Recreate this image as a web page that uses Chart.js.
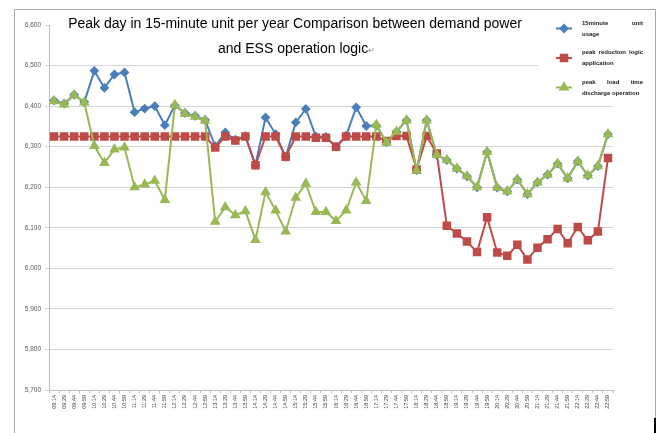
<!DOCTYPE html>
<html>
<head>
<meta charset="utf-8">
<script src="https://cdn.jsdelivr.net/npm/chart.js@4/dist/chart.umd.min.js"></script>
<style>
  html, body { margin: 0; padding: 0; background: #fff; }
  canvas { display: block; }
</style>
</head>
<body>
<canvas id="chart" width="659" height="433"></canvas>
<script>
// time slots (x axis)
const timeLabels = [
  '09:14','09:29','09:44','09:59','10:14','10:29','10:44','10:59',
  '11:14','11:29','11:44','11:59','12:14','12:29','12:44','12:59',
  '13:14','13:29','13:44','13:59','14:14','14:29','14:44','14:59',
  '15:14','15:29','15:44','15:59','16:14','16:29','16:44','16:59',
  '17:14','17:29','17:44','17:59','18:14','18:29','18:44','18:59',
  '19:14','19:29','19:44','19:59','20:14','20:29','20:44','20:59',
  '21:14','21:29','21:44','21:59','22:14','22:29','22:44','22:59'
];

// 15minute unit usage
const usage = [
  6414, 6406, 6428, 6410, 6487, 6445, 6478, 6483,
  6385, 6394, 6400, 6353, 6402, 6383, 6376, 6366,
  6301, 6335, 6317, 6326, 6255, 6372, 6331, 6275,
  6360, 6393, 6325, 6324, 6300, 6327, 6397, 6351,
  6352, 6311, 6337, 6365, 6242, 6365, 6280, 6267,
  6246, 6227, 6200, 6287, 6199, 6190, 6219, 6183,
  6212, 6231, 6258, 6222, 6264, 6229, 6252, 6331
];

// peak reduction logic application
const peakReduction = [
  6325, 6325, 6325, 6325, 6325, 6325, 6325, 6325,
  6325, 6325, 6325, 6325, 6325, 6325, 6325, 6325,
  6298, 6325, 6315, 6325, 6254, 6325, 6325, 6275,
  6325, 6325, 6322, 6322, 6300, 6325, 6325, 6325,
  6325, 6314, 6326, 6326, 6244, 6326, 6283, 6105,
  6086, 6066, 6040, 6126, 6039, 6031, 6058, 6022,
  6051, 6072, 6097, 6062, 6102, 6069, 6091, 6272
];

// peak load time discharge operation
const discharge = [
  6412, 6404, 6427, 6409, 6302, 6260, 6293, 6298,
  6200, 6207, 6216, 6169, 6403, 6381, 6374, 6364,
  6115, 6151, 6131, 6141, 6070, 6188, 6143, 6091,
  6174, 6209, 6139, 6139, 6117, 6143, 6212, 6166,
  6354, 6310, 6337, 6365, 6241, 6365, 6280, 6267,
  6246, 6227, 6200, 6287, 6199, 6190, 6219, 6183,
  6212, 6231, 6258, 6222, 6264, 6229, 6252, 6331
];

// legend text, one entry per line as in the original
const seriesNames = [
  ['15minute unit', 'usage'],
  ['peak reduction logic', 'application'],
  ['peak load time', 'discharge operation']
];

const titleLines = [
  'Peak day in 15-minute unit per year Comparison between demand power',
  'and ESS operation logic'
];

const yMin = 5700, yMax = 6600, yStep = 100;

const BLUE = '#4a7ebb', RED = '#be4b48', GREEN = '#98b954';

// white boxes for title + legend, the outer frame, and their texts
const overlay = {
  id: 'overlay',
  afterDraw(chart) {
    const ctx = chart.ctx;
    ctx.save();

    // title box and legend box hide the top gridlines
    ctx.fillStyle = '#fff';
    ctx.fillRect(50, 10, 488, 53);
    ctx.fillRect(538, 10, 116, 90);

    // outer frame
    ctx.strokeStyle = '#a8a8a8';
    ctx.lineWidth = 1;
    ctx.beginPath();
    ctx.moveTo(14.5, 440);
    ctx.lineTo(14.5, 9.5);
    ctx.lineTo(655.5, 9.5);
    ctx.lineTo(655.5, 440);
    ctx.stroke();
    ctx.fillStyle = '#000';
    ctx.fillRect(654, 418, 2, 15);

    // title
    ctx.fillStyle = '#000';
    ctx.font = '14px "Liberation Sans", Arial, sans-serif';
    ctx.textBaseline = 'middle';
    ctx.textAlign = 'center';
    ctx.fillText(titleLines[0], 295, 24);
    ctx.textAlign = 'left';
    ctx.fillText(titleLines[1], 218, 49);
    const w2 = ctx.measureText(titleLines[1]).width;
    ctx.fillStyle = '#888';
    ctx.font = '8px "DejaVu Sans", sans-serif';
    ctx.fillText('\u21b5', 218 + w2, 51);

    // legend
    const sampleY = [28.5, 58, 87.5];
    const textLeft = 582, textRight = 643;
    chart.data.datasets.forEach((ds, i) => {
      const y = sampleY[i];
      ctx.strokeStyle = ds.borderColor;
      ctx.lineWidth = 2;
      ctx.beginPath();
      ctx.moveTo(556, y);
      ctx.lineTo(572, y);
      ctx.stroke();
      Chart.helpers.drawPoint(ctx, {
        pointStyle: ds.pointStyle,
        radius: ds.pointRadius,
        borderWidth: 1
      }, 564, y);
      ctx.fillStyle = ds.pointBackgroundColor;
      ctx.strokeStyle = ds.pointBorderColor;
      ctx.fill();

      ctx.fillStyle = '#222';
      ctx.font = 'bold 6px "Liberation Sans", Arial, sans-serif';
      ctx.textAlign = 'left';
      const lines = seriesNames[i];
      lines.forEach((line, j) => {
        const ly = y + (j - (lines.length - 1) / 2) * 11;
        const words = line.split(' ');
        if (j < lines.length - 1 && words.length > 1) {
          // justified line
          const total = words.reduce((s, w) => s + ctx.measureText(w).width, 0);
          const gap = (textRight - textLeft - total) / (words.length - 1);
          let x = textLeft;
          words.forEach(w => {
            ctx.fillText(w, x, ly);
            x += ctx.measureText(w).width + gap;
          });
        } else {
          ctx.fillText(line, textLeft, ly);
        }
      });
    });
    ctx.restore();
  }
};

const ctx = document.getElementById('chart').getContext('2d');
new Chart(ctx, {
  type: 'line',
  data: {
    labels: timeLabels,
    datasets: [
      {
        label: seriesNames[0].join(' '),
        data: usage,
        borderColor: BLUE,
        backgroundColor: BLUE,
        pointBackgroundColor: BLUE,
        pointBorderColor: BLUE,
        pointStyle: 'rectRot',
        pointRadius: 3.5,
        borderWidth: 2,
        order: 2
      },
      {
        label: seriesNames[1].join(' '),
        data: peakReduction,
        borderColor: RED,
        backgroundColor: RED,
        pointBackgroundColor: RED,
        pointBorderColor: RED,
        pointStyle: 'rect',
        pointRadius: 4.6,
        borderWidth: 2,
        order: 1
      },
      {
        label: seriesNames[2].join(' '),
        data: discharge,
        borderColor: GREEN,
        backgroundColor: GREEN,
        pointBackgroundColor: GREEN,
        pointBorderColor: GREEN,
        pointStyle: 'triangle',
        pointRadius: 4.2,
        borderWidth: 2,
        order: 0
      }
    ]
  },
  options: {
    responsive: false,
    animation: false,
    layout: { padding: { left: 0, right: 46, top: 25, bottom: 0 } },
    plugins: {
      legend: { display: false },
      title: { display: false },
      tooltip: { enabled: false }
    },
    scales: {
      x: {
        offset: true,
        border: { color: '#bfbfbf' },
        grid: {
          offset: true,
          drawOnChartArea: false,
          drawTicks: true,
          tickLength: 3,
          color: '#bfbfbf'
        },
        ticks: {
          autoSkip: false,
          maxRotation: 90,
          minRotation: 90,
          padding: 2,
          color: '#404040',
          font: { family: '"Liberation Sans", Arial, sans-serif', size: 5.5 }
        },
        afterFit(scale) { scale.height = 43; }
      },
      y: {
        min: yMin,
        max: yMax,
        border: { color: '#bfbfbf' },
        grid: {
          color: '#d4d4d4',
          lineWidth: 1,
          tickLength: 4
        },
        ticks: {
          stepSize: yStep,
          padding: 4,
          color: '#595959',
          font: { family: '"Liberation Sans", Arial, sans-serif', size: 6.5 },
          callback: v => v.toLocaleString('en-US')
        },
        afterFit(scale) { scale.width = 49; }
      }
    }
  },
  plugins: [overlay]
});
</script>
</body>
</html>
